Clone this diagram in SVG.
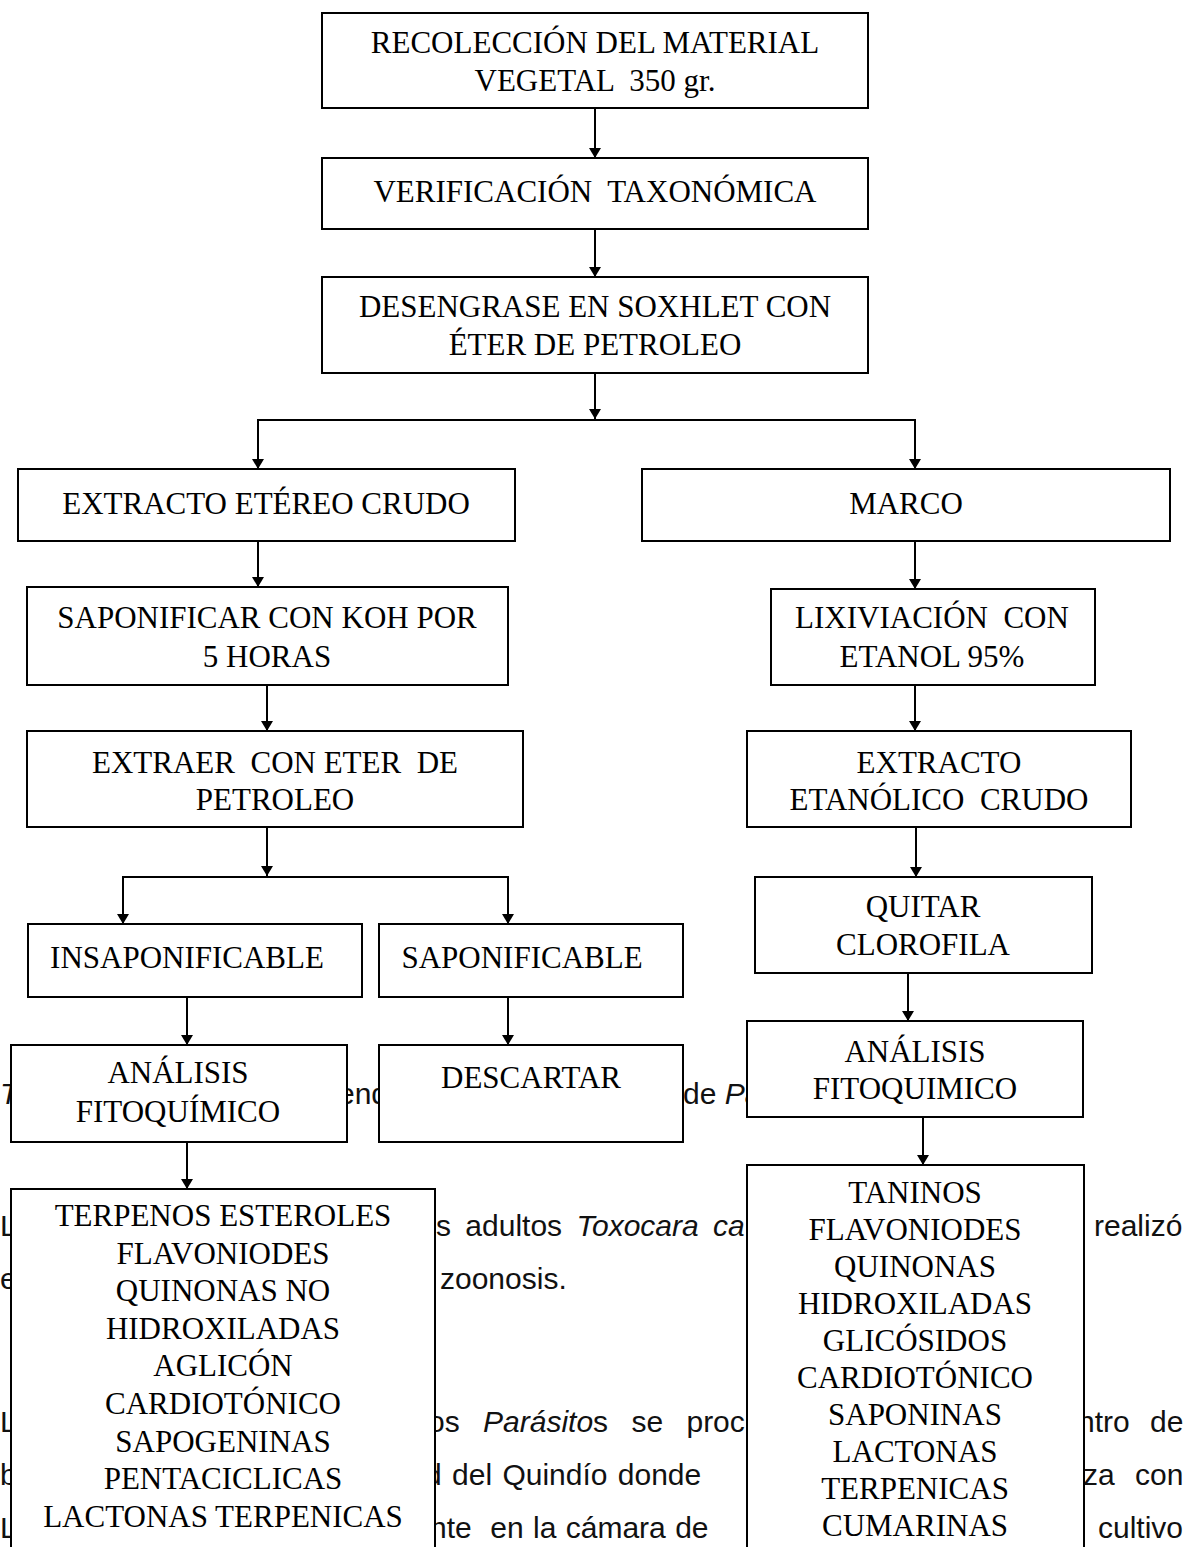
<svg xmlns="http://www.w3.org/2000/svg" width="1186" height="1547" viewBox="0 0 1186 1547">
<defs>
<style>
.bg{font-family:"Liberation Sans",Arial,sans-serif;font-size:30px;fill:#111;white-space:pre}
.it{font-style:italic}
.box{fill:#fff;stroke:#000;stroke-width:2}
.t{font-family:"Liberation Serif","Times New Roman",serif;font-size:31px;fill:#000;text-anchor:middle;white-space:pre}
.ln{stroke:#000;stroke-width:2;fill:none}
</style>
<marker id="ah" viewBox="0 0 10 12" refX="10" refY="6" markerWidth="11" markerHeight="12" markerUnits="userSpaceOnUse" orient="auto">
<path d="M0,0 L10,6 L0,12 Z" fill="#000"/>
</marker>
</defs>
<rect width="1186" height="1547" fill="#fff"/>
<g id="background-text">
<text class="bg it" x="0" y="1104">T</text>
<text class="bg" x="338" y="1104">end</text>
<text class="bg" x="683" y="1104">de <tspan class="it">Pa</tspan></text>
<text class="bg" x="0" y="1236">L</text>
<text class="bg" x="436" y="1236" word-spacing="6">s adultos <tspan class="it">Toxocara ca</tspan></text>
<text class="bg" x="1094" y="1236">realizó</text>
<text class="bg" x="0" y="1289">e</text>
<text class="bg" x="440" y="1289">zoonosis.</text>
<text class="bg" x="0" y="1432">L</text>
<text class="bg" x="428" y="1432" word-spacing="15">os <tspan class="it">Parásito</tspan>s se proc</text>
<text class="bg" x="1078" y="1432" word-spacing="12">ntro de</text>
<text class="bg" x="0" y="1485">b</text>
<text class="bg" x="425" y="1485" word-spacing="2">d del Quindío donde</text>
<text class="bg" x="1083" y="1485" word-spacing="12">za con</text>
<text class="bg" x="0" y="1538">L</text>
<text class="bg" x="430" y="1538" word-spacing="1">nte  en la cámara de</text>
<text class="bg" x="1098" y="1538">cultivo</text>
</g>
<g id="connectors">
<line class="ln" x1="595" y1="108" x2="595" y2="158" marker-end="url(#ah)"/>
<line class="ln" x1="595" y1="229" x2="595" y2="277" marker-end="url(#ah)"/>
<line class="ln" x1="595" y1="373" x2="595" y2="419" marker-end="url(#ah)"/>
<polyline class="ln" points="258,469 258,420 915,420 915,469" />
<line class="ln" x1="258" y1="440" x2="258" y2="469" marker-end="url(#ah)"/>
<line class="ln" x1="915" y1="440" x2="915" y2="469" marker-end="url(#ah)"/>
<line class="ln" x1="258" y1="541" x2="258" y2="587" marker-end="url(#ah)"/>
<line class="ln" x1="915" y1="541" x2="915" y2="589" marker-end="url(#ah)"/>
<line class="ln" x1="267" y1="685" x2="267" y2="731" marker-end="url(#ah)"/>
<line class="ln" x1="915" y1="685" x2="915" y2="731" marker-end="url(#ah)"/>
<line class="ln" x1="267" y1="827" x2="267" y2="876" marker-end="url(#ah)"/>
<polyline class="ln" points="123,924 123,877 508,877 508,924" />
<line class="ln" x1="123" y1="900" x2="123" y2="924" marker-end="url(#ah)"/>
<line class="ln" x1="508" y1="900" x2="508" y2="924" marker-end="url(#ah)"/>
<line class="ln" x1="916" y1="827" x2="916" y2="877" marker-end="url(#ah)"/>
<line class="ln" x1="908" y1="973" x2="908" y2="1021" marker-end="url(#ah)"/>
<line class="ln" x1="187" y1="997" x2="187" y2="1045" marker-end="url(#ah)"/>
<line class="ln" x1="508" y1="997" x2="508" y2="1045" marker-end="url(#ah)"/>
<line class="ln" x1="187" y1="1142" x2="187" y2="1189" marker-end="url(#ah)"/>
<line class="ln" x1="923" y1="1117" x2="923" y2="1165" marker-end="url(#ah)"/>
</g>
<g id="n-recoleccion"><rect class="box" x="322" y="13" width="546" height="95"/>
<text class="t" x="595" y="53">RECOLECCIÓN DEL MATERIAL</text><text class="t" x="595" y="91">VEGETAL  350 gr.</text></g>
<g id="n-verificacion"><rect class="box" x="322" y="158" width="546" height="71"/>
<text class="t" x="595" y="202">VERIFICACIÓN  TAXONÓMICA</text></g>
<g id="n-desengrase"><rect class="box" x="322" y="277" width="546" height="96"/>
<text class="t" x="595" y="317">DESENGRASE EN SOXHLET CON</text><text class="t" x="595" y="355">ÉTER DE PETROLEO</text></g>
<g id="n-extracto-etereo"><rect class="box" x="18" y="469" width="497" height="72"/>
<text class="t" x="266" y="514">EXTRACTO ETÉREO CRUDO</text></g>
<g id="n-marco"><rect class="box" x="642" y="469" width="528" height="72"/>
<text class="t" x="906" y="514">MARCO</text></g>
<g id="n-saponificar"><rect class="box" x="27" y="587" width="481" height="98"/>
<text class="t" x="267" y="628">SAPONIFICAR CON KOH POR</text><text class="t" x="267" y="667">5 HORAS</text></g>
<g id="n-lixiviacion"><rect class="box" x="771" y="589" width="324" height="96"/>
<text class="t" x="932" y="628">LIXIVIACIÓN  CON</text><text class="t" x="932" y="667">ETANOL 95%</text></g>
<g id="n-extraer"><rect class="box" x="27" y="731" width="496" height="96"/>
<text class="t" x="275" y="773">EXTRAER  CON ETER  DE</text><text class="t" x="275" y="810">PETROLEO</text></g>
<g id="n-extracto-etanolico"><rect class="box" x="747" y="731" width="384" height="96"/>
<text class="t" x="939" y="773">EXTRACTO</text><text class="t" x="939" y="810">ETANÓLICO  CRUDO</text></g>
<g id="n-quitar"><rect class="box" x="755" y="877" width="337" height="96"/>
<text class="t" x="923" y="917">QUITAR</text><text class="t" x="923" y="955">CLOROFILA</text></g>
<g id="n-insaponificable"><rect class="box" x="28" y="924" width="334" height="73"/>
<text class="t" x="187" y="968">INSAPONIFICABLE</text></g>
<g id="n-saponificable"><rect class="box" x="379" y="924" width="304" height="73"/>
<text class="t" x="522" y="968">SAPONIFICABLE</text></g>
<g id="n-analisis-izq"><rect class="box" x="11" y="1045" width="336" height="97"/>
<text class="t" x="178" y="1083">ANÁLISIS</text><text class="t" x="178" y="1122">FITOQUÍMICO</text></g>
<g id="n-descartar"><rect class="box" x="379" y="1045" width="304" height="97"/>
<text class="t" x="531" y="1088">DESCARTAR</text></g>
<g id="n-analisis-der"><rect class="box" x="747" y="1021" width="336" height="96"/>
<text class="t" x="915" y="1062">ANÁLISIS</text><text class="t" x="915" y="1099">FITOQUIMICO</text></g>
<g id="n-terpenos"><rect class="box" x="11" y="1189" width="424" height="370"/>
<text class="t" x="223" y="1226">TERPENOS ESTEROLES</text>
<text class="t" x="223" y="1264">FLAVONIODES</text>
<text class="t" x="223" y="1301">QUINONAS NO</text>
<text class="t" x="223" y="1339">HIDROXILADAS</text>
<text class="t" x="223" y="1376">AGLICÓN</text>
<text class="t" x="223" y="1414">CARDIOTÓNICO</text>
<text class="t" x="223" y="1452">SAPOGENINAS</text>
<text class="t" x="223" y="1489">PENTACICLICAS</text>
<text class="t" x="223" y="1527">LACTONAS TERPENICAS</text></g>
<g id="n-taninos"><rect class="box" x="747" y="1165" width="337" height="394"/>
<text class="t" x="915" y="1203">TANINOS</text>
<text class="t" x="915" y="1240">FLAVONIODES</text>
<text class="t" x="915" y="1277">QUINONAS</text>
<text class="t" x="915" y="1314">HIDROXILADAS</text>
<text class="t" x="915" y="1351">GLICÓSIDOS</text>
<text class="t" x="915" y="1388">CARDIOTÓNICO</text>
<text class="t" x="915" y="1425">SAPONINAS</text>
<text class="t" x="915" y="1462">LACTONAS</text>
<text class="t" x="915" y="1499">TERPENICAS</text>
<text class="t" x="915" y="1536">CUMARINAS</text></g>
</svg>
